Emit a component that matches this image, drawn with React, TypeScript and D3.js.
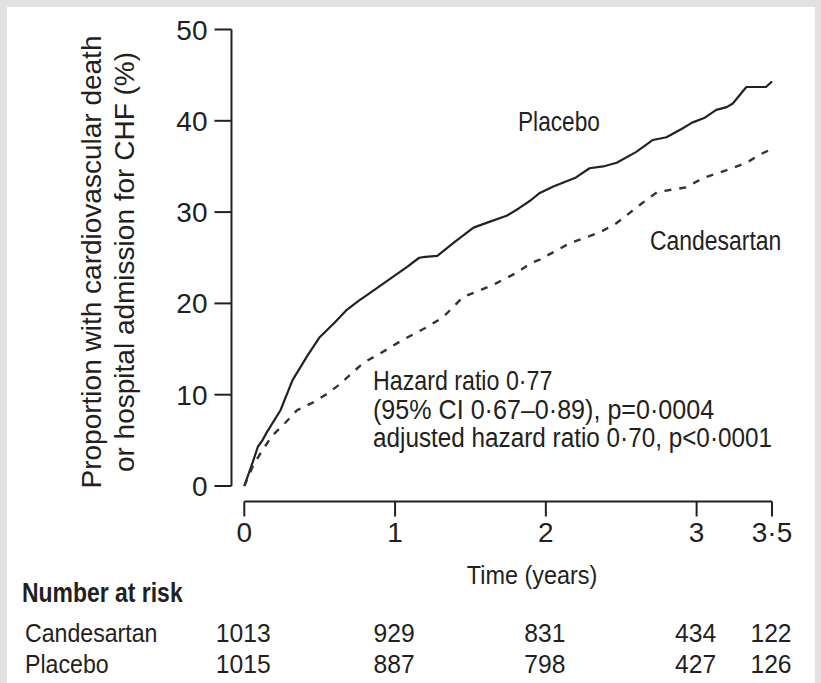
import React from "react";
import * as d3 from "d3";

const W = 821;
const H = 683;

// Placebo (solid) Kaplan–Meier estimate, [years, %]
const placeboT = [0, 0.06, 0.09, 0.12, 0.15, 0.24, 0.32, 0.42, 0.5, 0.6, 0.68, 0.76, 0.83, 0.95, 1.08, 1.16, 1.2, 1.28, 1.4, 1.52, 1.62, 1.74, 1.82, 1.9, 1.96, 2.05, 2.2, 2.29, 2.38, 2.47, 2.6, 2.71, 2.8, 2.9, 2.97, 3.05, 3.13, 3.2, 3.24, 3.33, 3.4, 3.46, 3.5];
const placeboV = [0, 2.8, 4.3, 5.0, 5.9, 8.3, 11.6, 14.3, 16.3, 17.9, 19.3, 20.3, 21.1, 22.5, 24.0, 25.0, 25.1, 25.2, 26.8, 28.3, 28.9, 29.6, 30.4, 31.3, 32.1, 32.8, 33.8, 34.8, 35.0, 35.4, 36.6, 37.9, 38.2, 39.1, 39.8, 40.3, 41.2, 41.5, 41.9, 43.7, 43.7, 43.7, 44.3];

// Candesartan (dashed)
const candT = [0, 0.06, 0.12, 0.18, 0.27, 0.35, 0.45, 0.55, 0.63, 0.79, 0.9, 1.05, 1.2, 1.32, 1.45, 1.56, 1.67, 1.8, 1.9, 1.96, 2.16, 2.36, 2.47, 2.64, 2.74, 2.93, 3.04, 3.2, 3.33, 3.42, 3.51];
const candV = [0, 2.3, 3.9, 5.4, 6.9, 8.3, 9.1, 10.1, 11.1, 13.5, 14.5, 16.0, 17.3, 18.5, 20.7, 21.4, 22.2, 23.3, 24.4, 24.8, 26.6, 27.8, 28.8, 31.0, 32.2, 32.7, 33.7, 34.6, 35.4, 36.3, 37.0];

const xTicks = [0, 1, 2, 3, 3.5];
const xTickLabels = ["0", "1", "2", "3", "3·5"];
const yTicks = [0, 10, 20, 30, 40, 50];

const riskTimes = [0, 1, 2, 3, 3.5];
const riskGroups = ["Candesartan", "Placebo"];
const riskCandesartan = [1013, 929, 831, 434, 122];
const riskPlacebo = [1015, 887, 798, 427, 126];

const hazardLines = [
  "Hazard ratio 0·77",
  "(95% CI 0·67–0·89), p=0·0004",
  "adjusted hazard ratio 0·70, p<0·0001",
];
const hazardSquash = [0.86, 0.93, 0.9];

const REG = "'Liberation Sans', Arial, sans-serif";
const INK = "#231f20";

type NProps = {
  x: number;
  y: number;
  sx: number;
  size: number;
  anchor?: "start" | "middle" | "end";
  weight?: string;
  children: React.ReactNode;
};

function NText({ x, y, sx, size, anchor = "start", weight = "normal", children }: NProps) {
  return (
    <g transform={`translate(${x},${y}) scale(${sx},1)`}>
      <text
        x={0}
        y={0}
        textAnchor={anchor}
        fontFamily={REG}
        fontSize={size}
        fontWeight={weight}
        fill={INK}
      >
        {children}
      </text>
    </g>
  );
}

export default function App() {
  const x = d3.scaleLinear().domain([0, 3.5]).range([244.3, 772]);
  const y = d3.scaleLinear().domain([0, 50]).range([486, 29.5]);

  const line = d3
    .line<[number, number]>()
    .x((d) => x(d[0]))
    .y((d) => y(d[1]))
    .curve(d3.curveLinear);

  const placebo = placeboT.map((t, i) => [t, placeboV[i]] as [number, number]);
  const cand = candT.map((t, i) => [t, candV[i]] as [number, number]);

  const axisY = 501.5;
  const axisX = 231.5;
  const riskRows = [riskCandesartan, riskPlacebo];

  return (
    <svg
      width={W}
      height={H}
      viewBox={`0 0 ${W} ${H}`}
      style={{ position: "absolute", left: 0, top: 0 }}
    >
      <rect x={0} y={0} width={W} height={H} fill="#e1e1e1" />
      <rect x={7} y={7} width={W - 13} height={H - 7} fill="#ffffff" />

      {/* Y axis */}
      <line x1={axisX} x2={axisX} y1={y(50)} y2={y(0)} stroke={INK} strokeWidth={2} />
      {yTicks.map((v) => (
        <g key={v}>
          <line x1={axisX - 17} x2={axisX} y1={y(v)} y2={y(v)} stroke={INK} strokeWidth={2} />
          <text
            x={axisX - 24}
            y={y(v) + 10}
            textAnchor="end"
            fontFamily={REG}
            fontSize={28}
            fill={INK}
          >
            {v}
          </text>
        </g>
      ))}

      {/* X axis */}
      <line x1={x(0)} x2={x(3.5)} y1={axisY} y2={axisY} stroke={INK} strokeWidth={2} />
      {xTicks.map((t, i) => (
        <g key={t}>
          <line x1={x(t)} x2={x(t)} y1={axisY} y2={axisY + 15} stroke={INK} strokeWidth={2} />
          <text
            x={x(t)}
            y={542}
            textAnchor="middle"
            fontFamily={REG}
            fontSize={28}
            fill={INK}
          >
            {xTickLabels[i]}
          </text>
        </g>
      ))}
      <NText x={532} y={584} sx={0.9} size={26} anchor="middle">
        Time (years)
      </NText>

      {/* Y title */}
      <g transform={`translate(0, 262) rotate(-90)`}>
        <text x={0} y={101} textAnchor="middle" fontFamily={REG} fontSize={28} fill={INK}>
          Proportion with cardiovascular death
        </text>
        <text x={0} y={134} textAnchor="middle" fontFamily={REG} fontSize={28} fill={INK}>
          or hospital admission for CHF (%)
        </text>
      </g>

      {/* Curves */}
      <path d={line(placebo) || ""} fill="none" stroke="#222" strokeWidth={2.2} strokeLinejoin="round" />
      <path
        d={line(cand) || ""}
        fill="none"
        stroke="#333"
        strokeWidth={2.4}
        strokeDasharray="7 8"
      />

      {/* Labels */}
      <NText x={518} y={131} sx={0.84} size={27}>
        Placebo
      </NText>
      <NText x={650} y={250} sx={0.85} size={27}>
        Candesartan
      </NText>
      {hazardLines.map((s, i) => (
        <NText key={i} x={373} y={390 + i * 28.5} sx={hazardSquash[i]} size={27}>
          {s}
        </NText>
      ))}

      {/* Number at risk */}
      <NText x={22} y={602} sx={0.85} size={27} weight="bold">
        Number at risk
      </NText>
      {riskGroups.map((g, r) => (
        <g key={g}>
          <NText x={25} y={642 + r * 30.5} sx={0.89} size={26}>
            {g}
          </NText>
          {riskTimes.map((t, i) => (
            <NText key={t} x={x(t) - 1} y={642 + r * 30.5} sx={0.95} size={26} anchor="middle">
              {riskRows[r][i]}
            </NText>
          ))}
        </g>
      ))}
    </svg>
  );
}
